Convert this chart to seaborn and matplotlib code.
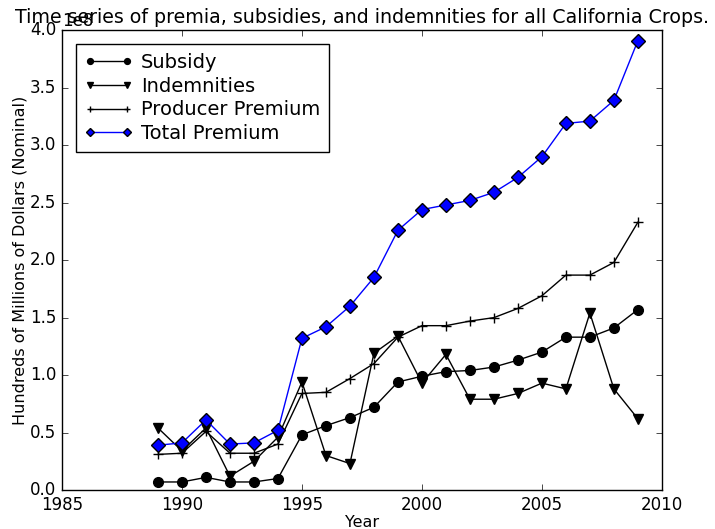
import matplotlib
matplotlib.use("Agg")
import matplotlib.pyplot as plt
import seaborn as sns

# data (dollars; axis shows 1e8 offset)
years = list(range(1989, 2010))
subsidy = [0.07, 0.07, 0.11, 0.07, 0.07, 0.10, 0.48, 0.56, 0.63, 0.72, 0.94,
           0.99, 1.03, 1.04, 1.07, 1.13, 1.20, 1.33, 1.33, 1.41, 1.57]
indemnities = [0.54, 0.34, 0.54, 0.12, 0.25, 0.46, 0.94, 0.30, 0.23, 1.19, 1.34,
               0.93, 1.18, 0.79, 0.79, 0.84, 0.93, 0.88, 1.54, 0.88, 0.62]
producer_premium = [0.31, 0.32, 0.51, 0.32, 0.32, 0.40, 0.84, 0.85, 0.97, 1.10, 1.33,
                    1.43, 1.43, 1.47, 1.50, 1.58, 1.69, 1.87, 1.87, 1.98, 2.33]
total_premium = [0.39, 0.41, 0.61, 0.40, 0.41, 0.52, 1.32, 1.42, 1.60, 1.85, 2.26,
                 2.44, 2.48, 2.52, 2.59, 2.72, 2.90, 3.19, 3.21, 3.39, 3.91]

scale = 1e8
series = [
    ("Subsidy", subsidy, "o", "k"),
    ("Indemnities", indemnities, "v", "k"),
    ("Producer Premium", producer_premium, "+", "k"),
    ("Total Premium", total_premium, "D", "b"),
]

plt.style.use("classic")
plt.rcParams["figure.facecolor"] = "white"
plt.rcParams["savefig.facecolor"] = "white"

fig = plt.figure(figsize=(7.15, 5.29), dpi=100)
ax = fig.add_axes([0.0867, 0.0737, 0.839, 0.869])

for name, vals, mk, col in series:
    sns.lineplot(x=years, y=[v * scale for v in vals], ax=ax, label=name,
                 marker=mk, color=col, linewidth=1.0, markersize=7,
                 markeredgecolor=col if mk == "+" else "k", markeredgewidth=1.0,
                 markerfacecolor=col)

ax.set_xlim(1985, 2010)
ax.set_ylim(0, 4e8)
ax.ticklabel_format(axis="x", useOffset=False)
ax.set_xlabel("Year", fontsize=11.5, labelpad=1)
ax.set_ylabel("Hundreds of Millions of Dollars (Nominal)", fontsize=11.5, labelpad=2)
ax.set_title("Time series of premia, subsidies, and indemnities for all California Crops.",
             fontsize=13.7)
ax.legend(loc="upper left", numpoints=2, fontsize=14, markerscale=0.6,
          labelspacing=0.25, handlelength=2.5, handletextpad=0.4,
          borderpad=0.45, borderaxespad=0.7)

fig.savefig("out.png", dpi=100)
